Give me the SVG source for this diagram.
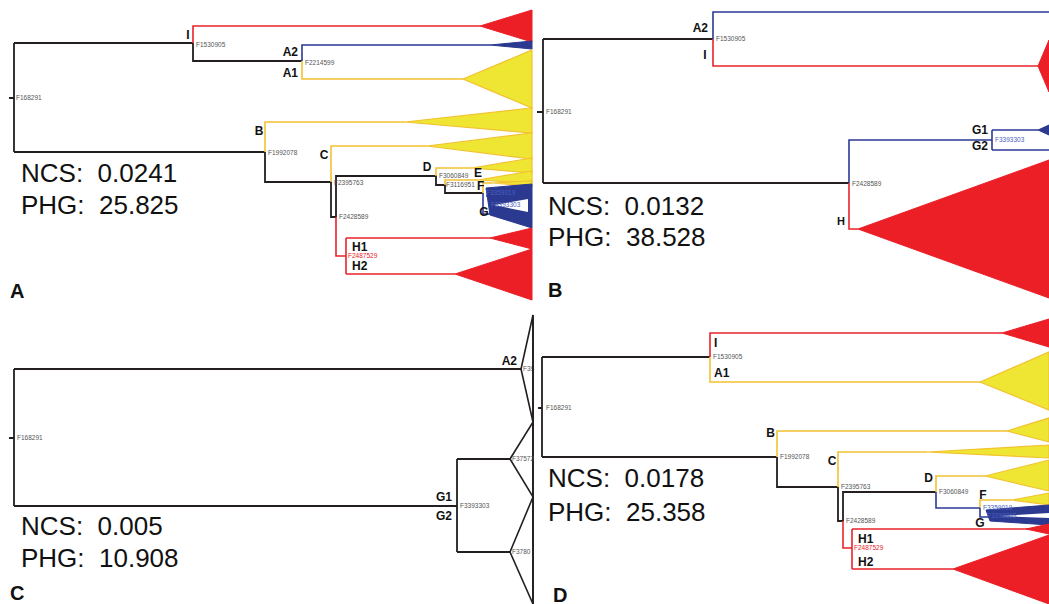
<svg xmlns="http://www.w3.org/2000/svg" width="1049" height="604" viewBox="0 0 1049 604">
<style>
.k{stroke:#231f20;stroke-width:1.8;fill:none}
.r{stroke:#e8232a;stroke-width:1.6;fill:none}
.b{stroke:#2b3a94;stroke-width:1.6;fill:none}
.y{stroke:#f2c230;stroke-width:1.6;fill:none}
.tr{fill:#ec1f26;stroke:#ec1f26;stroke-width:1}
.tb{fill:#2b3990;stroke:#2b3990;stroke-width:1}
.ty{fill:#efe634;stroke:#f2c230;stroke-width:1.2}
.tw{fill:#fff;stroke:#231f20;stroke-width:1.6}
.hole{fill:#fff}
.lb{font-family:"Liberation Sans",Arial,sans-serif;font-weight:bold;font-size:12px;fill:#111}
.id{font-family:"Liberation Sans",Arial,sans-serif;font-size:6.5px;fill:#555}
.idr{fill:#e8232a}
.idb{fill:#4a5fc0}
.big{font-family:"Liberation Sans",Arial,sans-serif;font-size:26px;fill:#111;white-space:pre}
.pl{font-family:"Liberation Sans",Arial,sans-serif;font-weight:bold;font-size:20px;fill:#111}
</style>
<rect width="1049" height="604" fill="#fff"/>

<!-- ================= Panel A ================= -->
<g id="connectors-A">
<path class="k" d="M9,98H14M14,43V152M14,43H193M193,43V61H302M14,152H265M265,152V182H331V217H336M336,217V176H436V185H445V193H483"/>
<path class="r" d="M193,43V26H480M336,217V256H346M346,238V274M346,238H490M346,274H455"/>
<path class="b" d="M302,61V45H490M483,193V214H492M486,196H494"/>
<path class="y" d="M265,152V122H405M302,61V79H463M331,182V146H427M436,176V168H472M445,185V180H478M483,193V183H492"/>
</g>
<g id="A-root"><text class="id" x="16" y="100.3">F168291</text></g>
<g id="A-I"><polygon class="tr" points="480,26 532,10 532,42"/><text class="lb" x="188" y="39" text-anchor="middle">I</text><text class="id" x="196" y="47.3">F1530905</text></g>
<g id="A-A2"><polygon class="tb" points="490,45 532,41 532,49"/><text class="lb" x="298" y="56" text-anchor="end">A2</text><text class="id" x="305" y="65.3">F2214599</text></g>
<g id="A-A1"><polygon class="ty" points="463,79 532,50 532,108"/><text class="lb" x="298" y="77" text-anchor="end">A1</text></g>
<g id="A-B"><polygon class="ty" points="405,122 532,108 532,133"/><text class="lb" x="259" y="135" text-anchor="middle">B</text><text class="id" x="268" y="154.5">F1992078</text></g>
<g id="A-C"><polygon class="ty" points="427,146 532,133 532,159"/><text class="lb" x="324" y="159" text-anchor="middle">C</text><text class="id" x="334" y="184.5">F2395763</text><text class="id" x="339" y="219.3">F2428589</text></g>
<g id="A-D"><text class="lb" x="427" y="171" text-anchor="middle">D</text><text class="id" x="439" y="178.3">F3060849</text><text class="id" x="446" y="187.3">F3116951</text></g>
<g id="A-E"><polygon class="ty" points="472,168 532,158 532,173"/><polygon class="ty" points="478,180 532,171 532,183"/><text class="lb" x="478" y="177" text-anchor="middle">E</text></g>
<g id="A-F"><polygon class="ty" points="492,183 532,181 532,186"/><text class="lb" x="477" y="190">F</text></g>
<g id="A-G"><polygon class="tb" points="486,188 532,184 532,228 490,215"/><polygon class="hole" points="494,205 528,199 528,212"/><text class="id idb" x="486" y="195">F3359019</text><text class="id idb" x="491" y="207.3">F3393303</text><text class="lb" x="484" y="216" text-anchor="middle">G</text></g>
<g id="A-H"><polygon class="tr" points="490,238 532,228 532,249"/><polygon class="tr" points="455,274 532,249 532,300"/><text class="lb" x="352" y="251">H1</text><text class="id idr" x="348" y="258.3">F2487529</text><text class="lb" x="352" y="270">H2</text></g>
<g id="A-stats"><text class="big" x="21" y="182">NCS:  0.0241</text><text class="big" x="21" y="214">PHG:  25.825</text><text class="pl" x="10" y="298">A</text></g>

<!-- ================= Panel B ================= -->
<g id="connectors-B">
<path class="k" d="M537,112H543M543,39V183M543,39H713M543,183H849"/>
<path class="b" d="M713,39V12H1049M849,183V140H992M992,130V150M992,130H1038M992,150H1049"/>
<path class="r" d="M713,39V66H1038M849,183V229H858"/>
</g>
<g id="B-root"><text class="id" x="546" y="114.3">F168291</text></g>
<g id="B-A2I"><text class="lb" x="708" y="32" text-anchor="end">A2</text><text class="lb" x="705" y="59" text-anchor="middle">I</text><text class="id" x="716" y="41.3">F1530905</text><polygon class="tr" points="1038,66 1049,40 1049,92"/></g>
<g id="B-G"><polygon class="tb" points="1038,130 1049,125 1049,135"/><text class="lb" x="988" y="134" text-anchor="end">G1</text><text class="lb" x="988" y="150" text-anchor="end">G2</text><text class="id idb" x="995" y="142.3">F3393303</text><text class="id" x="852" y="186.3">F2428589</text></g>
<g id="B-H"><polygon class="tr" points="858,229 1049,160 1049,298"/><text class="lb" x="845" y="225" text-anchor="end" style="font-size:11px">H</text></g>
<g id="B-stats"><text class="big" x="548" y="215">NCS:  0.0132</text><text class="big" x="548" y="246">PHG:  38.528</text><text class="pl" x="548" y="297">B</text></g>

<!-- ================= Panel C ================= -->
<g id="connectors-C">
<path class="k" d="M9,438H14M14,369V506M14,369H521M14,506H457M457,459V552M457,459H510M457,552H510"/>
</g>
<g id="C-root"><text class="id" x="17" y="440.3">F168291</text></g>
<g id="C-A2"><polygon class="tw" points="521,369 533,315 533,422"/><text class="lb" x="517" y="365" text-anchor="end">A2</text><text class="id" x="523" y="371.3">F39</text></g>
<g id="C-G"><polygon class="tw" points="510,459 533,422 533,497"/><polygon class="tw" points="510,552 533,497 533,604"/><path class="k" d="M533,315V604"/><text class="lb" x="452" y="501" text-anchor="end">G1</text><text class="lb" x="452" y="520" text-anchor="end">G2</text><text class="id" x="460" y="508.3">F3393303</text><text class="id" x="512" y="461.3">F37572</text><text class="id" x="512" y="554.3">F3780</text></g>
<g id="C-stats"><text class="big" x="21" y="535">NCS:  0.005</text><text class="big" x="21" y="567">PHG:  10.908</text><text class="pl" x="10" y="600">C</text></g>

<!-- ================= Panel D ================= -->
<g id="connectors-D">
<path class="k" d="M538,408H542M542,357V457M542,357H710M542,457H777M777,457V487H838M838,487V521H843M843,521V492H936"/>
<path class="r" d="M710,357V333H1002M843,521V548H852M852,529V569M852,529H1049M852,569H953"/>
<path class="y" d="M710,357V382H980M777,457V431H1007M838,487V452H927M936,492V476H985M980,508V500H1012"/>
<path class="b" d="M936,492V508H980M980,508V517H990"/>
</g>
<g id="D-root"><text class="id" x="546" y="410.3">F168291</text></g>
<g id="D-I"><polygon class="tr" points="1002,333 1049,319 1049,347"/><text class="lb" x="714" y="347">I</text><text class="id" x="713" y="359.3">F1530905</text></g>
<g id="D-A1"><polygon class="ty" points="980,382 1049,352 1049,410"/><text class="lb" x="714" y="377">A1</text></g>
<g id="D-B"><polygon class="ty" points="1007,431 1049,418 1049,442"/><text class="lb" x="775" y="437" text-anchor="end">B</text><text class="id" x="780" y="459.3">F1992078</text></g>
<g id="D-C"><polygon class="ty" points="927,452 1049,445 1049,458"/><text class="lb" x="832" y="465" text-anchor="middle">C</text><text class="id" x="841" y="489.3">F2395763</text><text class="id" x="846" y="523.3">F2428589</text></g>
<g id="D-D"><polygon class="ty" points="985,476 1049,460 1049,491"/><text class="lb" x="933" y="482" text-anchor="end">D</text><text class="id" x="939" y="494.3">F3060849</text></g>
<g id="D-F"><polygon class="ty" points="1012,500 1049,493 1049,505"/><text class="lb" x="983" y="499" text-anchor="middle">F</text></g>
<g id="D-G"><polygon class="tb" points="986,510 1049,505 1049,525 990,521"/><polygon class="hole" points="1000,516 1049,513 1049,518"/><text class="id idb" x="983" y="510">F3359019</text><text class="id idb" x="987" y="518">F3393303</text><text class="lb" x="980" y="527" text-anchor="middle">G</text></g>
<g id="D-H"><polygon class="tr" points="1026,529 1049,524 1049,534"/><polygon class="tr" points="953,569 1049,535 1049,604"/><text class="lb" x="858" y="543">H1</text><text class="id idr" x="854" y="550.3">F2487529</text><text class="lb" x="858" y="566">H2</text></g>
<g id="D-stats"><text class="big" x="548" y="487">NCS:  0.0178</text><text class="big" x="548" y="521">PHG:  25.358</text><text class="pl" x="553" y="602">D</text></g>
</svg>
